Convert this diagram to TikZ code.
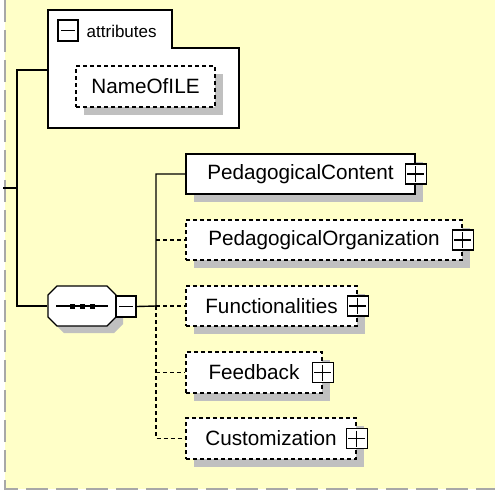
\documentclass[tikz,border=0pt]{standalone}
\usepackage{fontspec}
\setmainfont{Liberation Sans}
\usetikzlibrary{shadows}
\definecolor{fondo}{RGB}{255,255,200}
\definecolor{sombra}{RGB}{192,192,192}
\definecolor{marco}{RGB}{168,168,168}
\begin{document}
\begin{tikzpicture}[x=1pt,y=-1pt,line width=1.4pt,
    discontinua/.style={dash pattern=on 4pt off 3pt},
    caja/.style={draw, fill=white, minimum height=40pt, inner sep=0pt,
      font=\fontsize{20.7}{24}\selectfont,
      drop shadow={shadow xshift=8pt, shadow yshift=-8pt, fill=sombra, opacity=1}},
    opcional/.style={caja, discontinua},
    mas/.style={draw, fill=white, solid, minimum width=21pt, minimum height=20pt, inner sep=0pt,
      path picture={\draw ([xshift=2pt]path picture bounding box.west) -- ([xshift=-2pt]path picture bounding box.east);
        \draw ([yshift=-2pt]path picture bounding box.north) -- ([yshift=2pt]path picture bounding box.south);}},
    menos/.style={draw, fill=white, minimum width=20pt, minimum height=21pt, inner sep=0pt,
      path picture={\draw ([xshift=3pt]path picture bounding box.west) -- ([xshift=-3pt]path picture bounding box.east);}}]
    \useasboundingbox (0,0) rectangle (495,490);
    % Fondo y marco
    \fill[white] (0,0) rectangle (495,490);
    \fill[fondo] (5,0) rectangle (495,489);
    \draw[marco, line width=2pt, dash pattern=on 22pt off 8pt] (5,0) -- (5,489) -- (495,489);
    % Atributos
    \draw[fill=white] (48,10) -- (172,10) -- (172,48) -- (239,48) -- (239,128) -- (48,128) -- cycle;
    \node[menos] (attrmenos) at (68,30.5) {};
    \node[anchor=west, inner sep=0pt, font=\fontsize{17}{20}\selectfont] (attrtexto) at (86,31) {attributes};
    \node[opcional, minimum width=139pt, minimum height=41pt] (nombre) at (145.5,86.5) {NameOfILE};
    \coordinate (attr) at (48,70);
    % Secuencia (octágono)
    \fill[sombra] (64,293) -- (114,293) -- (123,302) -- (123,324) -- (114,333) -- (64,333) -- (55,324) -- (55,302) -- cycle;
    \draw[fill=white] (57,286) -- (107,286) -- (116,295) -- (116,317) -- (107,326) -- (57,326) -- (48,317) -- (48,295) -- cycle;
    \node[minimum width=68pt, minimum height=40pt, inner sep=0pt] (secuencia) at (82,306) {};
    \draw ([xshift=9pt]secuencia.west) -- ([xshift=-9pt]secuencia.east);
    \fill (69.5,303.5) rectangle (74.5,308.5);
    \fill (79.5,303.5) rectangle (84.5,308.5);
    \fill (89.5,303.5) rectangle (94.5,308.5);
    \node[menos] (secmenos) at (126,306.5) {};
    % Elementos
    \node[caja, minimum width=229pt] (contenido) at (300.5,174) {PedagogicalContent};
    \node[opcional, minimum width=276pt] (organizacion) at (324,240) {PedagogicalOrganization};
    \node[opcional, minimum width=171pt] (funciones) at (271.5,306) {Functionalities};
    \node[opcional, minimum width=136pt, minimum height=41pt] (retro) at (254,372.5) {Feedback};
    \node[opcional, minimum width=170pt, minimum height=41pt] (personal) at (271,438.5) {Customization};
    \node[mas] (contenidomas) at (contenido.east) {};
    \node[mas] (organizacionmas) at (organizacion.east) {};
    \node[mas] (funcionesmas) at (funciones.east) {};
    \node[mas] (retromas) at (retro.east) {};
    \node[mas] (personalmas) at (personal.east) {};
    % Conectores
    \coordinate (raiz) at (3,188);
    \coordinate (union) at (17,188);
    \coordinate (rama) at (156,306);
    \draw (raiz) -- (union);
    \draw (attr) -| (union) |- (secuencia.west);
    \draw (secmenos.east) -- (rama) |- (contenido.west);
    \draw[discontinua] (rama |- organizacion.west) -- (organizacion.west);
    \draw[discontinua] (rama) -- (funciones.west);
    \draw[discontinua] (rama |- retro.west) -- (retro.west);
    \draw[discontinua] (rama) |- (personal.west);
\end{tikzpicture}
\end{document}
